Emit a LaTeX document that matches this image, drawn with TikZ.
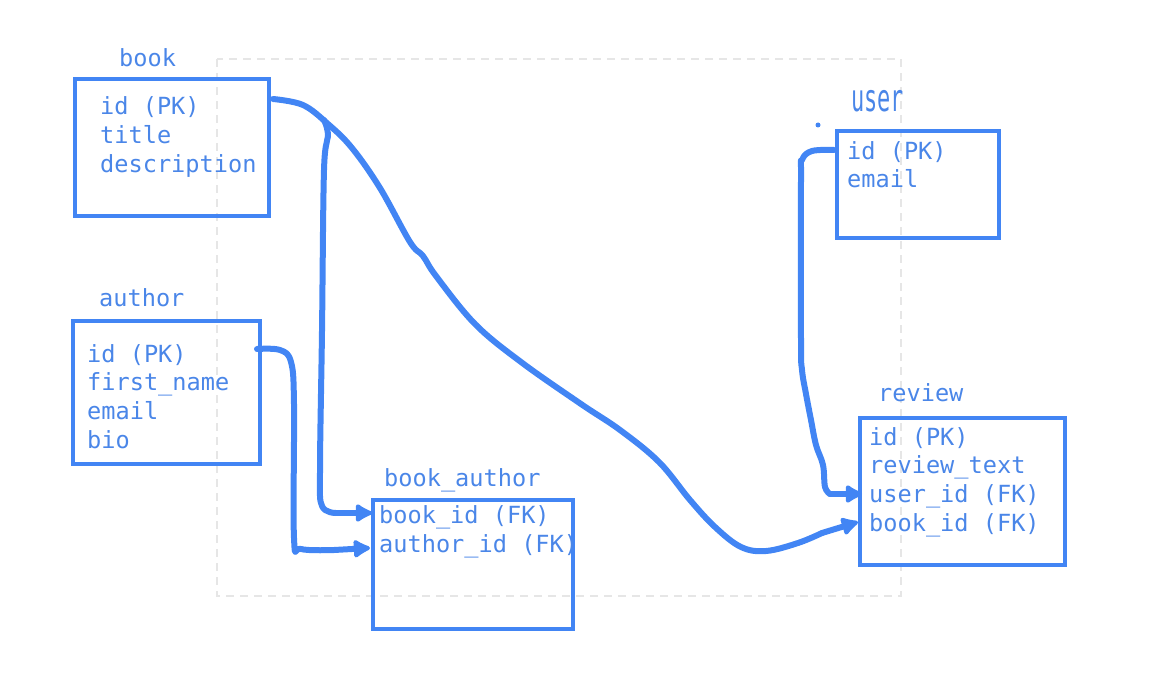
\documentclass[tikz,border=0pt]{standalone}
\usepackage{fontspec}
\setmainfont{DejaVu Sans Mono}
\usetikzlibrary{arrows.meta}
\definecolor{gblue}{HTML}{4285F4}
\definecolor{tblue}{HTML}{4A86E8}
\definecolor{dgray}{HTML}{E6E6E6}
\begin{document}
\begin{tikzpicture}[x=1pt,y=-1pt,
  tbl/.style={draw=gblue,line width=4pt,anchor=north west,inner sep=0pt},
  row/.style={anchor=base west,inner sep=0pt,text=tblue,font=\fontsize{23.6}{28}\selectfont},
  ttl/.style={anchor=base west,inner sep=0pt,text=tblue,font=\fontsize{23.6}{28}\selectfont},
  conn/.style={draw=gblue,line width=6pt,line cap=round,line join=round},
  arrowseg/.style={conn,-{Latex[length=20pt,width=22pt,round]}}]
\useasboundingbox (0,0) rectangle (1151,682);
% dashed frame
\draw[dgray,line width=1.2pt,dash pattern=on 8pt off 6pt] (217,59) rectangle (901,596);
% tables
\node[tbl,minimum width=194pt,minimum height=137pt] (book) at (73,77) {};
\node[ttl] (book-t) at (119,67) {book};
\node[row] (book-id) at (100,115) {id (PK)};
\node[row] (book-title) at (100,144) {title};
\node[row] (book-desc) at (100,172) {description};

\node[tbl,minimum width=187pt,minimum height=143pt] (author) at (71,319) {};
\node[ttl] (author-t) at (99,306) {author};
\node[row] (au-id) at (87,362) {id (PK)};
\node[row] (au-fn) at (87,390) {first\_name};
\node[row] (au-em) at (87,419) {email};
\node[row] (au-bio) at (87,448) {bio};

\node[tbl,minimum width=162pt,minimum height=107pt] (user) at (835,129) {};
\node[ttl] (user-t) at (851,112) {\scalebox{0.93}[1.6]{user}};
\node[row] (us-id) at (847,159) {id (PK)};
\node[row] (us-em) at (847,187) {email};
\fill[gblue] (818,125) circle (2.5pt);

\node[tbl,minimum width=205pt,minimum height=147pt] (review) at (858,416) {};
\node[ttl] (review-t) at (878,401) {review};
\node[row] (rv-id) at (869,445) {id (PK)};
\node[row] (rv-txt) at (869,473) {review\_text};
\node[row] (rv-user) at (869,502) {user\_id (FK)};
\node[row] (rv-book) at (869,531) {book\_id (FK)};

\node[tbl,minimum width=200pt,minimum height=129pt] (ba) at (371,498) {};
\node[ttl] (ba-t) at (384,486) {book\_author};
\node[row] (ba-book) at (379,523) {book\_id (FK)};
\node[row] (ba-author) at (379,552) {author\_id (FK)};

% connector anchors
\coordinate (bk-out) at (273,99);
\coordinate (au-out) at (257,349);
\coordinate (us-out) at (834,150);
\coordinate (ba-book-in) at (372,513);
\coordinate (ba-au-in) at (370,548);
\coordinate (rv-user-in) at (862,494);
\coordinate (rv-book-in) at (858,522);
\coordinate (c1) at (822,533);
\coordinate (c2) at (336,513);
\coordinate (c3) at (334,550);
\coordinate (c4) at (830,494);

% book -> review.book_id
\draw[conn] plot[smooth,tension=0.6] coordinates {(bk-out) (303,105) (328,124) (352,148) (380,188) (410,242) (423,256) (436,276) (475,324) (521,362) (581,404) (620,430) (659,462) (690,500) (715,527) (741,547) (766,551) (798,543) (c1)};
\draw[arrowseg] (c1) -- (rv-book-in);
% book -> book_author.book_id
\draw[conn] plot[smooth,tension=0.6] coordinates {(324,120) (328,136) (324,170) (322,331) (320,470) (322,506) (c2)};
\draw[arrowseg] (c2) -- (ba-book-in);
% author -> book_author.author_id
\draw[conn] plot[smooth,tension=0.6] coordinates {(au-out) (280,350) (291,362) (294,404) (294,538) (301,549) (c3)};
\draw[arrowseg] (c3) -- (ba-au-in);
% user -> review.user_id
\draw[conn] plot[smooth,tension=0.6] coordinates {(us-out) (812,151) (802,160) (801,180) (801,340) (802,370) (806,394) (811,420) (816,445) (823,465) (825,487) (c4)};
\draw[arrowseg] (c4) -- (rv-user-in);
\end{tikzpicture}
\end{document}
